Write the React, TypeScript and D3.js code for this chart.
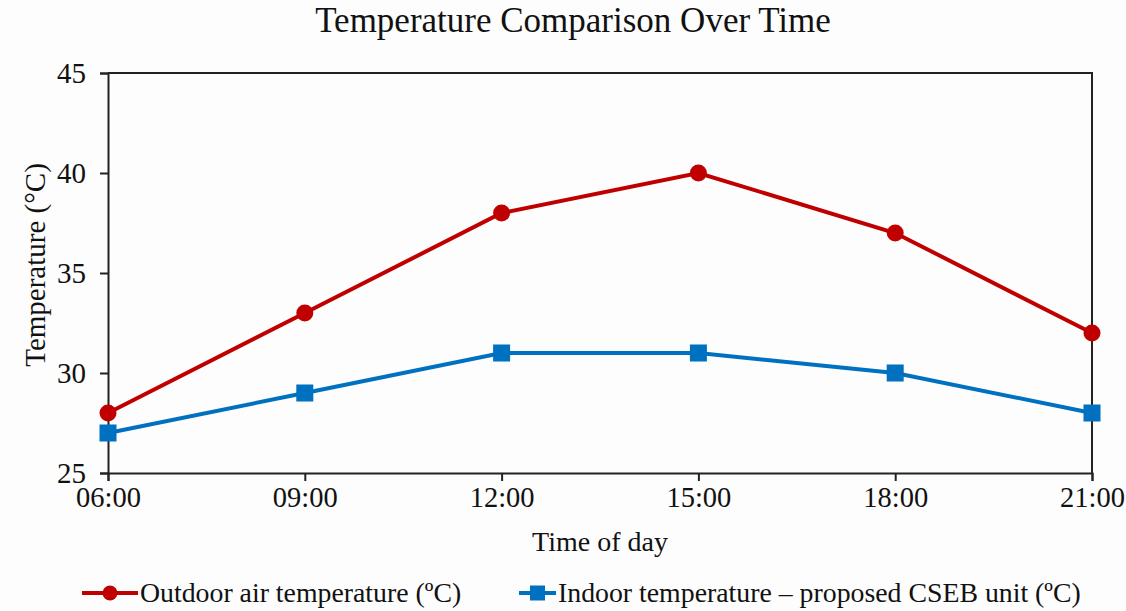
import * as d3 from "d3";
import React, { useRef, useEffect } from "react";

const times = ["06:00", "09:00", "12:00", "15:00", "18:00", "21:00"];
const outdoor = [28, 33, 38, 40, 37, 32];
const indoor = [27, 29, 31, 31, 30, 28];
const yTicks = [25, 30, 35, 40, 45];

const App = () => {
    const svgRef = useRef<SVGSVGElement | null>(null);

    useEffect(() => {
        const width = 1126;
        const height = 611;
        const marginLeft = 108;
        const marginRight = 34;
        const marginTop = 73;
        const marginBottom = 138;
        const font = "'Liberation Serif', 'Times New Roman', serif";
        const red = "#c00000";
        const blue = "#0070c0";

        const svg = d3.select(svgRef.current);
        svg.selectAll("*").remove();

        const x = d3.scalePoint()
            .domain(times)
            .range([marginLeft, width - marginRight]);

        const y = d3.scaleLinear()
            .domain([25, 45])
            .range([height - marginBottom, marginTop]);

        // background
        svg.append("rect")
            .attr("width", width)
            .attr("height", height)
            .attr("fill", "#fdfdfd");

        // title
        svg.append("text")
            .attr("x", 573)
            .attr("y", 32)
            .attr("text-anchor", "middle")
            .attr("font-family", font)
            .attr("font-size", 35)
            .attr("fill", "#111")
            .text("Temperature Comparison Over Time");

        // frame (top and right)
        svg.append("path")
            .attr("d", `M${marginLeft},${marginTop}H${width - marginRight}V${height - marginBottom}`)
            .attr("fill", "none")
            .attr("stroke", "#222")
            .attr("stroke-width", 2);

        // y axis
        svg.append("g")
            .attr("transform", `translate(${marginLeft},0)`)
            .call(d3.axisLeft(y).tickValues(yTicks).tickSize(8).tickPadding(14))
            .call(g => g.select(".domain").attr("stroke", "#222").attr("stroke-width", 2))
            .call(g => g.selectAll(".tick line").attr("stroke", "#222").attr("stroke-width", 2))
            .call(g => g.selectAll(".tick text")
                .attr("font-family", font)
                .attr("font-size", 29)
                .attr("fill", "#111"));

        // x axis
        svg.append("g")
            .attr("transform", `translate(0,${height - marginBottom})`)
            .call(d3.axisBottom(x).tickSize(8).tickPadding(6))
            .call(g => g.select(".domain").attr("stroke", "#222").attr("stroke-width", 2))
            .call(g => g.selectAll(".tick line").attr("stroke", "#222").attr("stroke-width", 2))
            .call(g => g.selectAll(".tick text")
                .attr("font-family", font)
                .attr("font-size", 28.5)
                .attr("fill", "#111"));

        // axis titles
        svg.append("text")
            .attr("x", 600)
            .attr("y", 551)
            .attr("text-anchor", "middle")
            .attr("font-family", font)
            .attr("font-size", 28)
            .attr("fill", "#111")
            .text("Time of day");

        svg.append("text")
            .attr("transform", `translate(45,${(marginTop + height - marginBottom) / 2 - 8}) rotate(-90)`)
            .attr("text-anchor", "middle")
            .attr("font-family", font)
            .attr("font-size", 29)
            .attr("fill", "#111")
            .text("Temperature (°C)");

        const line = d3.line<number>()
            .x((d, i) => x(times[i]) as number)
            .y(d => y(d));

        // outdoor series
        svg.append("path")
            .datum(outdoor)
            .attr("d", line)
            .attr("fill", "none")
            .attr("stroke", red)
            .attr("stroke-width", 4);

        svg.append("g")
            .selectAll("circle")
            .data(outdoor)
            .join("circle")
            .attr("cx", (d, i) => x(times[i]) as number)
            .attr("cy", d => y(d))
            .attr("r", 8.5)
            .attr("fill", red);

        // indoor series
        svg.append("path")
            .datum(indoor)
            .attr("d", line)
            .attr("fill", "none")
            .attr("stroke", blue)
            .attr("stroke-width", 4);

        const sq = 17;
        svg.append("g")
            .selectAll("rect")
            .data(indoor)
            .join("rect")
            .attr("x", (d, i) => (x(times[i]) as number) - sq / 2)
            .attr("y", d => y(d) - sq / 2)
            .attr("width", sq)
            .attr("height", sq)
            .attr("fill", blue);

        // legend
        const legendY = 593;
        const legend = [
            { label: "Outdoor air temperature (ºC)", color: red, shape: "circle", x0: 82, x1: 138 },
            { label: "Indoor temperature – proposed CSEB unit (ºC)", color: blue, shape: "square", x0: 519, x1: 556 },
        ];
        legend.forEach(l => {
            svg.append("line")
                .attr("x1", l.x0)
                .attr("x2", l.x1)
                .attr("y1", legendY)
                .attr("y2", legendY)
                .attr("stroke", l.color)
                .attr("stroke-width", 4);
            const cx = (l.x0 + l.x1) / 2;
            if (l.shape === "circle") {
                svg.append("circle")
                    .attr("cx", cx)
                    .attr("cy", legendY)
                    .attr("r", 7.5)
                    .attr("fill", l.color);
            } else {
                svg.append("rect")
                    .attr("x", cx - 7.5)
                    .attr("y", legendY - 7.5)
                    .attr("width", 15)
                    .attr("height", 15)
                    .attr("fill", l.color);
            }
            svg.append("text")
                .attr("x", l.x1 + 2)
                .attr("y", legendY + 9)
                .attr("font-family", font)
                .attr("font-size", 27.8)
                .attr("fill", "#111")
                .text(l.label);
        });
    }, []);

    return (
        <svg
            ref={svgRef}
            width={1126}
            height={611}
            style={{ position: "absolute", left: 0, top: 0 }}
        />
    );
};

export default App;
